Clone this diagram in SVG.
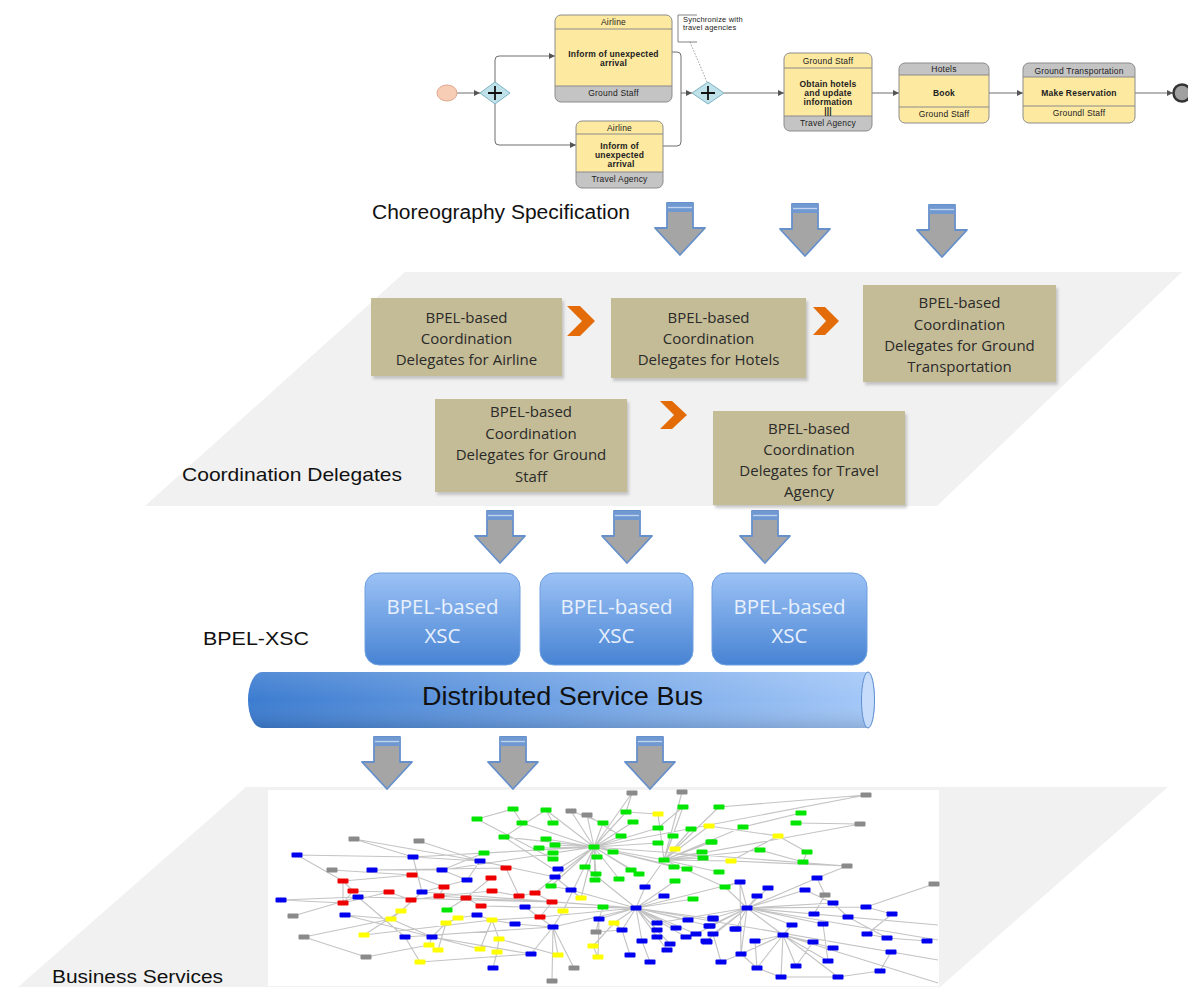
<svg xmlns="http://www.w3.org/2000/svg" xmlns:xlink="http://www.w3.org/1999/xlink" width="1188" height="989" viewBox="0 0 1188 989">
<style>
.tk{font-family:"Liberation Sans",Arial,sans-serif;font-size:8.5px;fill:#222;text-anchor:middle;letter-spacing:0.2px}
.tb{font-weight:bold}
.ln{fill:none;stroke:#8a8a8a;stroke-width:1}
.yel{fill:#fde9a0}
.gry{fill:#c4c4c4}
.bd{fill:none;stroke:#8c8c8c;stroke-width:1}
.con{fill:none;stroke:#6e6e6e;stroke-width:1}
.lbl{font-family:"Liberation Sans",Arial,sans-serif;fill:#111}
.tan{fill:#c4bc96}
.sh{fill:#8c8c8c;opacity:0.45}
.tt{font-family:"Open Sans","Liberation Sans",sans-serif;font-size:15px;fill:#2a2a2a;text-anchor:middle}
.chev{fill:#e36c09}
.xt{font-family:"Open Sans","Liberation Sans",sans-serif;font-size:20.5px;fill:#e8f0fc;text-anchor:middle}
.plane{fill:#f1f1f1}
.e{fill:none;stroke:#c4c4c4;stroke-width:1.15}
.b{fill:#0000ee}.g{fill:#00e600}.r{fill:#ee0000}.y{fill:#ffff00}.k{fill:#8a8a8a}
</style>
<defs>
<marker id="ah" viewBox="0 0 6 6" refX="6" refY="3" markerWidth="6" markerHeight="6" markerUnits="userSpaceOnUse" orient="auto"><path d="M0,0 L6,3 L0,6 Z" fill="#555"/></marker>
<g id="barrow">
<path d="M-13,0 H13 V25 H25 L0,52 L-25,25 H-13 Z" fill="#a5a5a5" stroke="#6690cc" stroke-width="1.8" stroke-linejoin="round"/>
<rect x="-13" y="0" width="26" height="9" fill="#7099d2"/>
<line x1="-12" x2="12" y1="4.5" y2="4.5" stroke="#c3d5ee" stroke-width="1.3"/>
</g>
<rect id="n" x="-5.5" y="-2.5" width="11" height="5" rx="1"/>
<linearGradient id="xg" x1="0" y1="0" x2="0" y2="1"><stop offset="0" stop-color="#9cc2f5"/><stop offset="1" stop-color="#4783d3"/></linearGradient>
<linearGradient id="busg" x1="0" y1="0" x2="1" y2="0"><stop offset="0" stop-color="#3c7cd0"/><stop offset="1" stop-color="#a4c8f8"/></linearGradient>
<linearGradient id="busv" x1="0" y1="0" x2="0" y2="1"><stop offset="0" stop-color="#ffffff" stop-opacity="0.12"/><stop offset="0.5" stop-color="#ffffff" stop-opacity="0"/><stop offset="1" stop-color="#000000" stop-opacity="0.12"/></linearGradient>
<filter id="blur" x="-10%" y="-10%" width="120%" height="130%"><feGaussianBlur stdDeviation="1.5"/></filter>
</defs>
<rect width="1188" height="989" fill="#ffffff"/>

<!-- planes -->
<polygon class="plane" points="405,272 1182,272 937,506 145,506"/>
<polygon class="plane" points="246,787 1168,787 940,987 18,987"/>
<rect x="268" y="790" width="671" height="196" fill="#ffffff"/>

<!-- choreography connectors -->
<g id="connectors">
<path class="con" d="M457,93 H480" marker-end="url(#ah)"/>
<path class="con" d="M495,82 V60 Q495,56 499,56 H555" marker-end="url(#ah)"/>
<path class="con" d="M495,104 V141 Q495,145 499,145 H576" marker-end="url(#ah)"/>
<path class="con" d="M672,52 H677 Q681,52 681,56 V93 H692" marker-end="url(#ah)"/>
<path class="con" d="M663,146 H677 Q681,146 681,142 V93"/>
<path class="con" d="M724,93 H784" marker-end="url(#ah)"/>
<path class="con" d="M872,93 H899" marker-end="url(#ah)"/>
<path class="con" d="M989,93 H1023" marker-end="url(#ah)"/>
<path class="con" d="M1135,93 H1173" marker-end="url(#ah)"/>
<path d="M690,42 L707,82" fill="none" stroke="#888" stroke-width="0.8" stroke-dasharray="1.5,1.5"/>
</g>

<g id="start"><ellipse cx="447" cy="93" rx="10" ry="8" fill="#f8cdb5" stroke="#dfa88e" stroke-width="1"/></g>
<g id="gw1"><polygon points="480,93 495,82 510,93 495,104" fill="#bfe2ea" stroke="#7eb2c2" stroke-width="1"/><path d="M488,93 H502 M495,86 V100" stroke="#111" stroke-width="1.8"/></g>
<g id="gw2"><polygon points="692,93 708,82 724,93 708,104" fill="#bfe2ea" stroke="#7eb2c2" stroke-width="1"/><path d="M701,93 H715 M708,86 V100" stroke="#111" stroke-width="1.8"/></g>
<g id="end"><circle cx="1182" cy="93" r="8.5" fill="#a0a0a0" stroke="#333" stroke-width="2.5"/></g>

<g id="annot">
<path d="M697,15 H678 V42 H697" fill="none" stroke="#777" stroke-width="0.9"/>
<text class="tk" x="683" y="22" style="text-anchor:start;font-size:7.5px">Synchronize with</text>
<text class="tk" x="683" y="30" style="text-anchor:start;font-size:7.5px">travel agencies</text>
</g>

<g id="task1">
<rect class="yel" x="555" y="15" width="117" height="87" rx="6"/>
<path class="gry" d="M555,86 H672 V96 A6,6 0 0 1 666,102 H561 A6,6 0 0 1 555,96 Z"/>
<path class="ln" d="M555,29 H672 M555,86 H672"/>
<rect class="bd" x="555" y="15" width="117" height="87" rx="6"/>
<text class="tk" x="613.5" y="25">Airline</text>
<text class="tk tb" x="613.5" y="57">Inform of unexpected</text>
<text class="tk tb" x="613.5" y="66">arrival</text>
<text class="tk" x="613.5" y="96">Ground Staff</text>
</g>

<g id="task2">
<rect class="yel" x="576" y="121" width="87" height="67" rx="6"/>
<path class="gry" d="M576,172 H663 V182 A6,6 0 0 1 657,188 H582 A6,6 0 0 1 576,182 Z"/>
<path class="ln" d="M576,134 H663 M576,172 H663"/>
<rect class="bd" x="576" y="121" width="87" height="67" rx="6"/>
<text class="tk" x="619.5" y="131">Airline</text>
<text class="tk tb" x="619.5" y="149">Inform of</text>
<text class="tk tb" x="619.5" y="158">unexpected</text>
<text class="tk tb" x="621" y="167">arrival</text>
<text class="tk" x="619.5" y="182">Travel Agency</text>
</g>

<g id="task3">
<rect class="yel" x="784" y="53" width="88" height="78" rx="6"/>
<path class="gry" d="M784,116 H872 V125 A6,6 0 0 1 866,131 H790 A6,6 0 0 1 784,125 Z"/>
<path class="ln" d="M784,68 H872 M784,116 H872"/>
<rect class="bd" x="784" y="53" width="88" height="78" rx="6"/>
<text class="tk" x="828" y="64">Ground Staff</text>
<text class="tk tb" x="828" y="87">Obtain hotels</text>
<text class="tk tb" x="828" y="96">and update</text>
<text class="tk tb" x="828" y="105">information</text>
<text class="tk tb" x="828" y="113.5">|||</text>
<text class="tk" x="828" y="126">Travel Agency</text>
</g>

<g id="task4">
<rect class="yel" x="899" y="63" width="90" height="60" rx="6"/>
<path class="gry" d="M899,75 V69 A6,6 0 0 1 905,63 H983 A6,6 0 0 1 989,69 V75 Z"/>
<path class="ln" d="M899,75 H989 M899,107 H989"/>
<rect class="bd" x="899" y="63" width="90" height="60" rx="6"/>
<text class="tk" x="944" y="72">Hotels</text>
<text class="tk tb" x="944" y="96">Book</text>
<text class="tk" x="944" y="117">Ground Staff</text>
</g>

<g id="task5">
<rect class="yel" x="1023" y="63" width="112" height="60" rx="6"/>
<path class="gry" d="M1023,77 V69 A6,6 0 0 1 1029,63 H1129 A6,6 0 0 1 1135,69 V77 Z"/>
<path class="ln" d="M1023,77 H1135 M1023,106 H1135"/>
<rect class="bd" x="1023" y="63" width="112" height="60" rx="6"/>
<text class="tk" x="1079" y="73.5">Ground Transportation</text>
<text class="tk tb" x="1079" y="96">Make Reservation</text>
<text class="tk" x="1079" y="116">Groundl Staff</text>
</g>

<text class="lbl" x="372" y="219" font-size="20" textLength="258" lengthAdjust="spacingAndGlyphs">Choreography Specification</text>

<!-- block arrows -->
<g id="arrows">
<use xlink:href="#barrow" transform="translate(680,203)"/>
<use xlink:href="#barrow" transform="translate(805,204)"/>
<use xlink:href="#barrow" transform="translate(942,205)"/>
<use xlink:href="#barrow" transform="translate(500,511)"/>
<use xlink:href="#barrow" transform="translate(627,511)"/>
<use xlink:href="#barrow" transform="translate(765,511)"/>
<use xlink:href="#barrow" transform="translate(387,737)"/>
<use xlink:href="#barrow" transform="translate(513,737)"/>
<use xlink:href="#barrow" transform="translate(650,737)"/>
</g>

<!-- coordination delegates -->
<g id="cd-airline">
<rect class="sh" x="373" y="301" width="191" height="78" filter="url(#blur)"/>
<rect class="tan" x="371" y="298" width="191" height="78"/>
<text class="tt" x="466.5" y="323">BPEL-based</text>
<text class="tt" x="466.5" y="344">Coordination</text>
<text class="tt" x="466.5" y="365">Delegates for Airline</text>
</g>
<g id="cd-hotels">
<rect class="sh" x="613" y="301" width="195" height="80" filter="url(#blur)"/>
<rect class="tan" x="611" y="298" width="195" height="80"/>
<text class="tt" x="708.5" y="323">BPEL-based</text>
<text class="tt" x="708.5" y="344">Coordination</text>
<text class="tt" x="708.5" y="365">Delegates for Hotels</text>
</g>
<g id="cd-gt">
<rect class="sh" x="865" y="288" width="193" height="97" filter="url(#blur)"/>
<rect class="tan" x="863" y="285" width="193" height="97"/>
<text class="tt" x="959.5" y="308">BPEL-based</text>
<text class="tt" x="959.5" y="330">Coordination</text>
<text class="tt" x="959.5" y="351">Delegates for Ground</text>
<text class="tt" x="959.5" y="372">Transportation</text>
</g>
<g id="cd-groundstaff">
<rect class="sh" x="437" y="402" width="192" height="93" filter="url(#blur)"/>
<rect class="tan" x="435" y="399" width="192" height="93"/>
<text class="tt" x="531" y="417">BPEL-based</text>
<text class="tt" x="531" y="439">Coordination</text>
<text class="tt" x="531" y="460">Delegates for Ground</text>
<text class="tt" x="531" y="482">Staff</text>
</g>
<g id="cd-travel">
<rect class="sh" x="715" y="414" width="192" height="94" filter="url(#blur)"/>
<rect class="tan" x="713" y="411" width="192" height="94"/>
<text class="tt" x="809" y="434">BPEL-based</text>
<text class="tt" x="809" y="455">Coordination</text>
<text class="tt" x="809" y="476">Delegates for Travel</text>
<text class="tt" x="809" y="497">Agency</text>
</g>
<g id="chevrons">
<polygon class="chev" points="567,306 580,306 595,321 580,336 567,336 582,321"/>
<polygon class="chev" points="813,307 825,307 839,321 825,335 813,335 826,321"/>
<polygon class="chev" points="660,401 672,401 687,415 672,429 660,429 674,415"/>
</g>
<text class="lbl" x="182" y="481" font-size="19" textLength="220" lengthAdjust="spacingAndGlyphs">Coordination Delegates</text>

<!-- XSC -->
<g id="xsc1"><rect x="365" y="573" width="155" height="92" rx="14" fill="url(#xg)" stroke="#6e9fe0" stroke-width="1"/><text class="xt" x="442.5" y="614">BPEL-based</text><text class="xt" x="442.5" y="643">XSC</text></g>
<g id="xsc2"><rect x="540" y="573" width="153" height="92" rx="14" fill="url(#xg)" stroke="#6e9fe0" stroke-width="1"/><text class="xt" x="616.5" y="614">BPEL-based</text><text class="xt" x="616.5" y="643">XSC</text></g>
<g id="xsc3"><rect x="712" y="573" width="155" height="92" rx="14" fill="url(#xg)" stroke="#6e9fe0" stroke-width="1"/><text class="xt" x="789.5" y="614">BPEL-based</text><text class="xt" x="789.5" y="643">XSC</text></g>
<text class="lbl" x="203" y="645" font-size="18.5" textLength="106" lengthAdjust="spacingAndGlyphs">BPEL-XSC</text>

<g id="bus">
<path d="M262,672 H868 A7,28 0 0 1 868,728 H262 A14,28 0 0 1 262,672 Z" fill="url(#busg)"/>
<path d="M262,672 H868 A7,28 0 0 1 868,728 H262 A14,28 0 0 1 262,672 Z" fill="url(#busv)"/>
<ellipse cx="868" cy="700" rx="6.5" ry="28" fill="#c6dcfa" stroke="#5f8fd0" stroke-width="1"/>
<text class="lbl" x="422" y="705" font-size="25" textLength="281" lengthAdjust="spacingAndGlyphs">Distributed Service Bus</text>
</g>

<!-- business services network -->
<g id="network">
<path class="e" d="M594,847L626,812 M594,847L633,822 M594,847L603,823 M594,847L658,828 M594,847L621,836 M594,847L613,852 M594,847L597,857 M594,847L585,867 M594,847L596,874 M594,847L631,870 M594,847L639,874 M594,847L619,879 M594,847L595,880 M594,847L553,853 M594,847L555,845 M594,847L546,839 M594,847L539,848 M594,847L632,793 M594,847L571,811 M594,847L587,815 M594,847L658,843 M594,847L664,860 M594,847L674,867 M594,847L687,869 M594,847L551,886 M594,847L581,898 M594,847L484,853 M594,847L504,837 M594,847L522,823 M594,847L546,810 M594,847L535,893 M594,847L563,911 M594,847L413,857 M594,847L442,870 M594,847L847,866 M594,847L866,795 M594,847L558,869
M664,860L683,807 M664,860L719,807 M664,860L691,829 M664,860L673,836 M664,860L702,852 M664,860L703,858 M664,860L711,842 M664,860L719,872 M664,860L725,887 M664,860L731,861 M664,860L709,826 M664,860L675,849 M664,860L658,814 M664,860L682,792 M664,860L743,827 M664,860L760,850 M664,860L712,842 M664,860L860,824 M664,860L645,887
M743,827L801,813 M796,823L860,824 M719,807L866,795 M778,836L807,852 M803,862L807,852 M760,850L803,862 M731,861L847,866 M725,887L740,882 M626,812L658,814 M683,807L658,828 M546,810L553,823 M513,809L522,823 M477,819L513,809 M504,837L546,810 M504,837L553,869 M477,819L553,859 M632,793L626,812 M571,811L603,823 M587,815L621,836 M709,826L778,836 M731,861L778,836
M636,908L645,887 M636,908L664,896 M636,908L599,919 M636,908L622,930 M636,908L657,923 M636,908L657,930 M636,908L688,920 M636,908L713,919 M636,908L676,928 M636,908L686,937 M636,908L696,934 M636,908L710,926 M636,908L642,941 M636,908L667,950 M636,908L670,944 M636,908L657,937 M636,908L571,890 M636,908L553,927 M636,908L525,907 M636,908L603,907 M636,908L614,923 M636,908L585,867 M636,908L675,881 M636,908L693,899 M636,908L740,882 M636,908L552,902 M636,908L422,892 M636,908L938,960
M747,908L740,882 M747,908L768,888 M747,908L757,896 M747,908L805,890 M747,908L817,878 M747,908L833,903 M747,908L866,907 M747,908L814,914 M747,908L848,917 M747,908L823,924 M747,908L792,925 M747,908L783,935 M747,908L736,929 M747,908L713,918 M747,908L709,926 M747,908L713,934 M747,908L706,941 M747,908L741,954 M747,908L938,925 M747,908L938,940 M747,908L725,887 M747,908L696,934 M747,908L657,923 M740,882L741,954
M783,935L755,941 M783,935L757,968 M783,935L781,977 M783,935L796,966 M783,935L813,942 M783,935L833,948 M783,935L828,961 M783,935L792,925 M783,935L838,977 M783,935L741,954 M783,935L938,983
M892,914L867,934 M848,917L887,938 M867,934L887,938 M891,952L880,971 M880,971L838,977 M927,941L887,938 M866,907L934,884 M866,907L892,914 M823,924L828,961 M814,914L825,895 M817,878L825,895 M805,890L833,903 M833,903L848,917 M755,941L757,968 M757,968L781,977 M721,962L741,954 M781,977L838,977 M796,966L813,942 M741,954L757,968 M817,878L847,866
M343,881L353,891 M353,891L343,903 M343,903L343,881 M353,891L389,892 M389,892L411,900 M412,875L444,887 M444,887L439,896 M439,896L466,898 M466,898L481,906 M492,891L519,896 M519,896L535,893 M535,893L552,902 M491,878L466,898 M506,868L519,896 M552,902L540,917 M411,900L439,896 M343,903L389,892 M412,875L343,881 M492,891L439,896 M481,906L525,907 M540,917L636,908 M466,898L552,902
M297,855L413,857 M281,900L358,897 M372,870L442,870 M413,857L480,861 M442,870L467,880 M467,880L422,892 M358,897L405,937 M345,915L391,919 M354,839L413,857 M419,841L480,861 M332,870L412,875 M293,916L358,897 M304,937L391,919 M366,957L429,945 M364,935L401,911 M391,919L432,937 M405,937L420,962 M432,937L446,923 M446,923L458,918 M458,918L477,915 M477,915L492,920 M492,920L515,924 M515,924L553,927 M492,920L499,939 M499,939L497,952 M480,949L492,920 M493,968L497,952 M438,950L446,923 M429,945L432,937 M531,954L553,927 M558,955L553,927 M553,927L552,981 M553,927L574,968 M563,911L553,927 M581,898L571,890 M598,957L599,919 M593,946L614,923 M630,955L622,930 M650,962L642,941 M721,962L713,934 M447,910L466,898 M401,911L422,892 M484,853L442,870 M480,861L555,877 M558,869L594,847 M555,877L571,890 M551,886L571,890 M596,932L622,930 M603,907L599,919 M614,923L622,930 M354,839L480,861 M358,897L552,902 M372,870L506,868 M281,900L343,903 M405,937L553,927 M432,937L531,954 M420,962L531,954 M364,935L492,920 M345,915L480,949 M297,855L343,881 M413,857L422,892 M480,861L467,880 M525,907L553,927 M492,920L540,917 M499,939L558,955 M598,957L593,946 M599,919L596,932 M391,919L401,911 M304,937L366,957"/>
<g class="k">
<use xlink:href="#n" x="632" y="793"/><use xlink:href="#n" x="682" y="792"/><use xlink:href="#n" x="571" y="811"/><use xlink:href="#n" x="587" y="815"/><use xlink:href="#n" x="354" y="839"/><use xlink:href="#n" x="419" y="841"/><use xlink:href="#n" x="332" y="870"/><use xlink:href="#n" x="293" y="916"/><use xlink:href="#n" x="304" y="937"/><use xlink:href="#n" x="366" y="957"/><use xlink:href="#n" x="596" y="932"/><use xlink:href="#n" x="574" y="968"/><use xlink:href="#n" x="552" y="981"/><use xlink:href="#n" x="866" y="795"/><use xlink:href="#n" x="860" y="824"/><use xlink:href="#n" x="847" y="866"/><use xlink:href="#n" x="825" y="895"/><use xlink:href="#n" x="934" y="884"/>
</g>
<g class="g">
<use xlink:href="#n" x="513" y="809"/><use xlink:href="#n" x="546" y="810"/><use xlink:href="#n" x="477" y="819"/><use xlink:href="#n" x="522" y="823"/><use xlink:href="#n" x="553" y="823"/><use xlink:href="#n" x="504" y="837"/><use xlink:href="#n" x="546" y="839"/><use xlink:href="#n" x="539" y="848"/><use xlink:href="#n" x="555" y="845"/><use xlink:href="#n" x="553" y="853"/><use xlink:href="#n" x="553" y="859"/><use xlink:href="#n" x="484" y="853"/><use xlink:href="#n" x="626" y="812"/><use xlink:href="#n" x="633" y="822"/><use xlink:href="#n" x="603" y="823"/><use xlink:href="#n" x="658" y="828"/><use xlink:href="#n" x="683" y="807"/><use xlink:href="#n" x="719" y="807"/><use xlink:href="#n" x="691" y="829"/><use xlink:href="#n" x="673" y="836"/><use xlink:href="#n" x="621" y="836"/><use xlink:href="#n" x="594" y="847"/><use xlink:href="#n" x="613" y="852"/><use xlink:href="#n" x="597" y="857"/><use xlink:href="#n" x="658" y="843"/><use xlink:href="#n" x="711" y="842"/><use xlink:href="#n" x="702" y="852"/><use xlink:href="#n" x="703" y="858"/><use xlink:href="#n" x="664" y="860"/><use xlink:href="#n" x="674" y="867"/><use xlink:href="#n" x="585" y="867"/><use xlink:href="#n" x="596" y="874"/><use xlink:href="#n" x="631" y="870"/><use xlink:href="#n" x="639" y="874"/><use xlink:href="#n" x="619" y="879"/><use xlink:href="#n" x="595" y="880"/><use xlink:href="#n" x="687" y="869"/><use xlink:href="#n" x="719" y="872"/><use xlink:href="#n" x="675" y="881"/><use xlink:href="#n" x="725" y="887"/><use xlink:href="#n" x="693" y="899"/><use xlink:href="#n" x="551" y="886"/><use xlink:href="#n" x="447" y="910"/><use xlink:href="#n" x="603" y="907"/><use xlink:href="#n" x="801" y="813"/><use xlink:href="#n" x="796" y="823"/><use xlink:href="#n" x="743" y="827"/><use xlink:href="#n" x="712" y="842"/><use xlink:href="#n" x="760" y="850"/><use xlink:href="#n" x="807" y="852"/><use xlink:href="#n" x="803" y="862"/>
</g>
<g class="y">
<use xlink:href="#n" x="658" y="814"/><use xlink:href="#n" x="709" y="826"/><use xlink:href="#n" x="675" y="849"/><use xlink:href="#n" x="731" y="861"/><use xlink:href="#n" x="581" y="898"/><use xlink:href="#n" x="563" y="911"/><use xlink:href="#n" x="401" y="911"/><use xlink:href="#n" x="391" y="919"/><use xlink:href="#n" x="458" y="918"/><use xlink:href="#n" x="446" y="923"/><use xlink:href="#n" x="492" y="920"/><use xlink:href="#n" x="614" y="923"/><use xlink:href="#n" x="364" y="935"/><use xlink:href="#n" x="499" y="939"/><use xlink:href="#n" x="429" y="945"/><use xlink:href="#n" x="438" y="950"/><use xlink:href="#n" x="480" y="949"/><use xlink:href="#n" x="497" y="952"/><use xlink:href="#n" x="593" y="946"/><use xlink:href="#n" x="598" y="957"/><use xlink:href="#n" x="558" y="955"/><use xlink:href="#n" x="420" y="962"/><use xlink:href="#n" x="778" y="836"/>
</g>
<g class="r">
<use xlink:href="#n" x="343" y="881"/><use xlink:href="#n" x="353" y="891"/><use xlink:href="#n" x="343" y="903"/><use xlink:href="#n" x="412" y="875"/><use xlink:href="#n" x="389" y="892"/><use xlink:href="#n" x="411" y="900"/><use xlink:href="#n" x="444" y="887"/><use xlink:href="#n" x="439" y="896"/><use xlink:href="#n" x="506" y="868"/><use xlink:href="#n" x="491" y="878"/><use xlink:href="#n" x="492" y="891"/><use xlink:href="#n" x="466" y="898"/><use xlink:href="#n" x="481" y="906"/><use xlink:href="#n" x="519" y="896"/><use xlink:href="#n" x="535" y="893"/><use xlink:href="#n" x="552" y="902"/><use xlink:href="#n" x="540" y="917"/>
</g>
<g class="b">
<use xlink:href="#n" x="297" y="855"/><use xlink:href="#n" x="281" y="900"/><use xlink:href="#n" x="372" y="870"/><use xlink:href="#n" x="413" y="857"/><use xlink:href="#n" x="480" y="861"/><use xlink:href="#n" x="442" y="870"/><use xlink:href="#n" x="467" y="880"/><use xlink:href="#n" x="422" y="892"/><use xlink:href="#n" x="358" y="897"/><use xlink:href="#n" x="345" y="915"/><use xlink:href="#n" x="477" y="915"/><use xlink:href="#n" x="525" y="907"/><use xlink:href="#n" x="571" y="890"/><use xlink:href="#n" x="558" y="869"/><use xlink:href="#n" x="555" y="877"/><use xlink:href="#n" x="645" y="887"/><use xlink:href="#n" x="664" y="896"/><use xlink:href="#n" x="636" y="908"/><use xlink:href="#n" x="599" y="919"/><use xlink:href="#n" x="622" y="930"/><use xlink:href="#n" x="657" y="923"/><use xlink:href="#n" x="657" y="930"/><use xlink:href="#n" x="688" y="920"/><use xlink:href="#n" x="713" y="919"/><use xlink:href="#n" x="676" y="928"/><use xlink:href="#n" x="686" y="937"/><use xlink:href="#n" x="696" y="934"/><use xlink:href="#n" x="710" y="926"/><use xlink:href="#n" x="707" y="942"/><use xlink:href="#n" x="735" y="929"/><use xlink:href="#n" x="642" y="941"/><use xlink:href="#n" x="667" y="950"/><use xlink:href="#n" x="670" y="944"/><use xlink:href="#n" x="657" y="937"/><use xlink:href="#n" x="553" y="927"/><use xlink:href="#n" x="515" y="924"/><use xlink:href="#n" x="405" y="937"/><use xlink:href="#n" x="432" y="937"/><use xlink:href="#n" x="531" y="954"/><use xlink:href="#n" x="630" y="955"/><use xlink:href="#n" x="650" y="962"/><use xlink:href="#n" x="721" y="962"/><use xlink:href="#n" x="493" y="968"/><use xlink:href="#n" x="740" y="882"/><use xlink:href="#n" x="817" y="878"/><use xlink:href="#n" x="768" y="888"/><use xlink:href="#n" x="805" y="890"/><use xlink:href="#n" x="757" y="896"/><use xlink:href="#n" x="833" y="903"/><use xlink:href="#n" x="866" y="907"/><use xlink:href="#n" x="747" y="908"/><use xlink:href="#n" x="814" y="914"/><use xlink:href="#n" x="848" y="917"/><use xlink:href="#n" x="892" y="914"/><use xlink:href="#n" x="713" y="918"/><use xlink:href="#n" x="709" y="926"/><use xlink:href="#n" x="823" y="924"/><use xlink:href="#n" x="792" y="925"/><use xlink:href="#n" x="736" y="929"/><use xlink:href="#n" x="713" y="934"/><use xlink:href="#n" x="867" y="934"/><use xlink:href="#n" x="783" y="935"/><use xlink:href="#n" x="887" y="938"/><use xlink:href="#n" x="706" y="941"/><use xlink:href="#n" x="755" y="941"/><use xlink:href="#n" x="813" y="942"/><use xlink:href="#n" x="927" y="941"/><use xlink:href="#n" x="833" y="948"/><use xlink:href="#n" x="891" y="952"/><use xlink:href="#n" x="741" y="954"/><use xlink:href="#n" x="828" y="961"/><use xlink:href="#n" x="796" y="966"/><use xlink:href="#n" x="757" y="968"/><use xlink:href="#n" x="880" y="971"/><use xlink:href="#n" x="781" y="977"/><use xlink:href="#n" x="838" y="977"/>
</g>
</g>
<text class="lbl" x="52" y="983" font-size="18" textLength="171" lengthAdjust="spacingAndGlyphs">Business Services</text>
</svg>
